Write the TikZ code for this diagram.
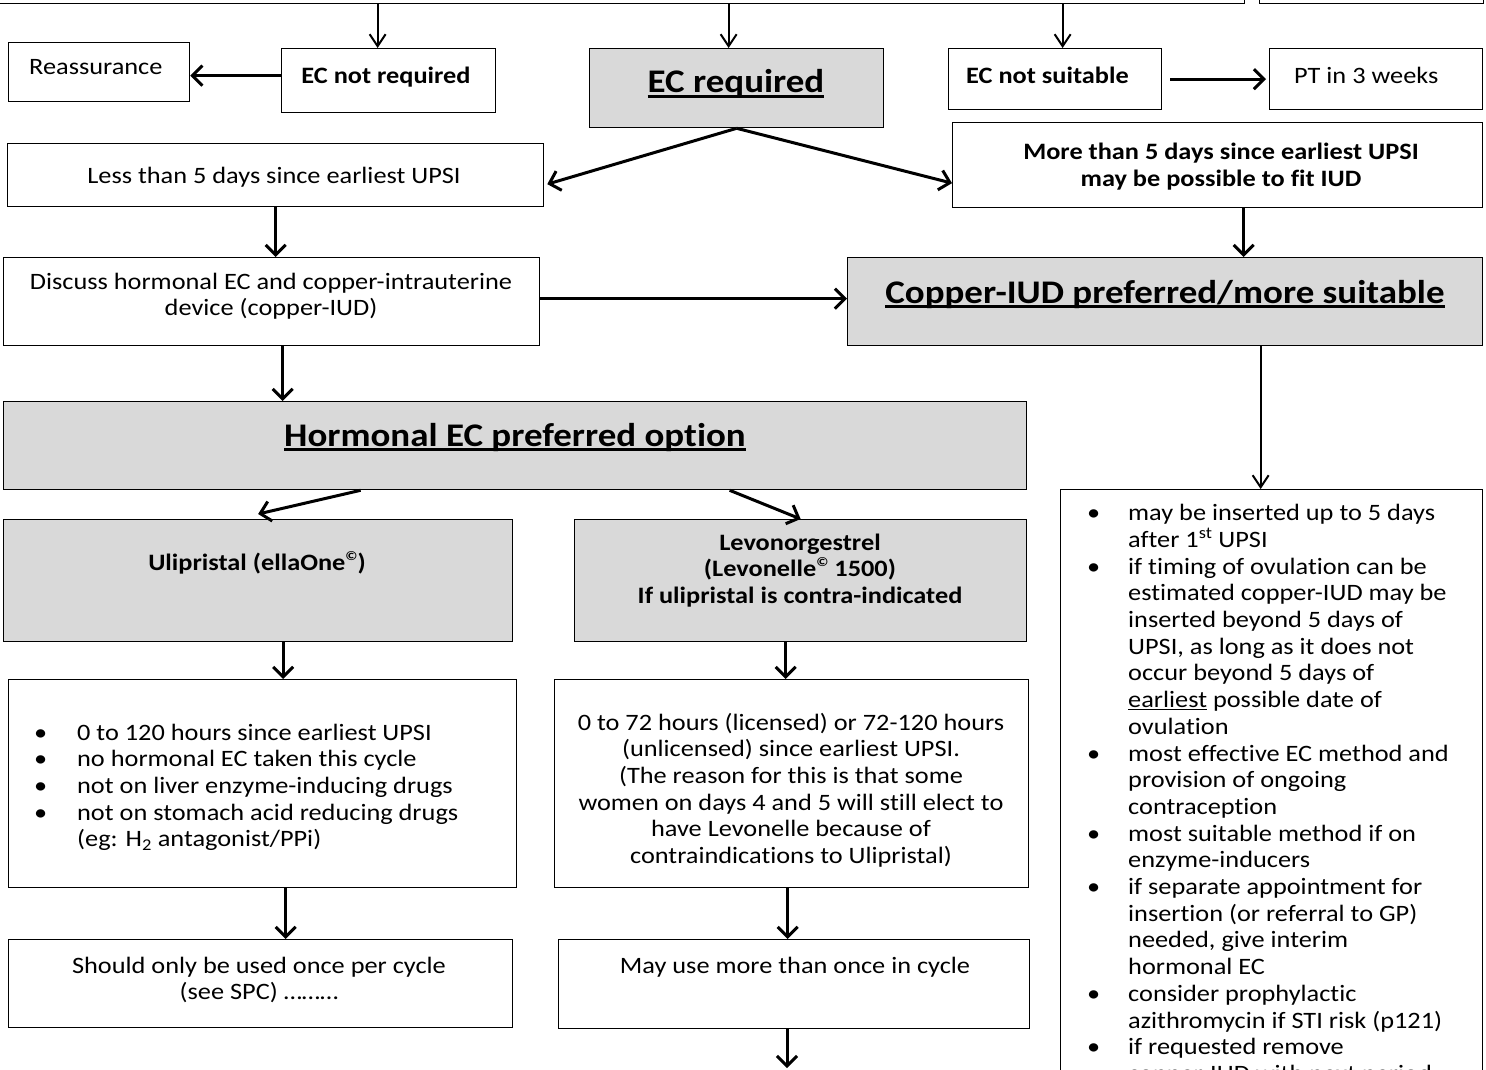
\documentclass[tikz,border=0pt]{standalone}
\usepackage{fontspec}
\setmainfont{Carlito}[FakeStretch=1.12,Ligatures={NoCommon}]
\usetikzlibrary{arrows.meta,calc}
\definecolor{boxgray}{HTML}{D9D9D9}
\newcommand\myul[1]{\setbox0\hbox{#1}\rlap{\rule[-5pt]{\wd0}{2.6pt}}\box0}
\newcommand\cpy{\raisebox{10pt}{\fontsize{13}{13}\selectfont\bfseries ©}}
\begin{document}
\begin{tikzpicture}[x=1pt,y=-1pt,
  box/.style={draw=black, line width=1.3pt, fill=white, inner sep=0pt, anchor=north west},
  gbox/.style={box, fill=boxgray},
  txt/.style={inner sep=0pt, font=\fontsize{23.5}{26.7}\selectfont},
  btxt/.style={inner sep=0pt, font=\fontsize{23.5}{26.7}\selectfont\bfseries},
  htxt/.style={inner sep=0pt, font=\fontsize{33}{38}\selectfont\bfseries},
  arr/.style={line width=3pt, -{Straight Barb[length=10pt,width=20pt]}},
  tarr/.style={line width=2pt, -{Straight Barb[length=12pt,width=16pt]}},
]
\useasboundingbox (0,0) rectangle (1486,1070);
\fill[white] (0,0) rectangle (1486,1070);

% boxes
\node[box, minimum width=1264pt, minimum height=103pt] (top1) at (-20,-100) {};
\node[box, minimum width=224pt, minimum height=103pt] (top2) at (1259,-100) {};
\node[box, minimum width=181pt, minimum height=59pt] (reass) at (8,42) {};
\node[box, minimum width=214pt, minimum height=64pt] (ecnr) at (281,48) {};
\node[gbox, minimum width=294pt, minimum height=79pt] (ecr) at (589,48) {};
\node[box, minimum width=213pt, minimum height=61pt] (ecns) at (948,48) {};
\node[box, minimum width=213pt, minimum height=61pt] (pt) at (1269,48) {};
\node[box, minimum width=536pt, minimum height=63pt] (less) at (7,143) {};
\node[box, minimum width=530pt, minimum height=85pt] (more) at (952,122) {};
\node[box, minimum width=536pt, minimum height=88pt] (discuss) at (3,257) {};
\node[gbox, minimum width=635pt, minimum height=88pt] (copper) at (847,257) {};
\node[gbox, minimum width=1023pt, minimum height=88pt] (horm) at (3,401) {};
\node[gbox, minimum width=509pt, minimum height=122pt] (uli) at (3,519) {};
\node[gbox, minimum width=452pt, minimum height=122pt] (levo) at (574,519) {};
\node[box, minimum width=508pt, minimum height=208pt] (ulist) at (8,679) {};
\node[box, minimum width=474pt, minimum height=208pt] (levot) at (554,679) {};
\node[box, minimum width=504pt, minimum height=88pt] (should) at (8,939) {};
\node[box, minimum width=471pt, minimum height=89pt] (may) at (558,939) {};
\node[box, minimum width=422pt, minimum height=611pt] (rlist) at (1060,489) {};

% texts
\node[txt, anchor=base west] (reass-t) at (29,75) {Reassurance};
\node[btxt, anchor=base] (ecnr-t) at (386,84) {EC not required};
\node[htxt, anchor=base] (ecr-t) at (736,93) {\myul{EC required}};
\node[btxt, anchor=base west] (ecns-t) at (966,84) {EC not suitable};
\node[txt, anchor=base west] (pt-t) at (1294,84) {PT in 3 weeks};
\node[txt, anchor=base] (less-t) at (274,183) {Less than 5 days since earliest UPSI};
\node[btxt, anchor=base] (more-t) at (1221,160) {\begin{tabular}[t]{@{}c@{}}More than 5 days since earliest UPSI\\ may be possible to fit IUD\end{tabular}};
\node[txt, anchor=base] (discuss-t) at (271,289) {\begin{tabular}[t]{@{}c@{}}Discuss hormonal EC and copper-intrauterine\\ device (copper-IUD)\end{tabular}};
\node[htxt, anchor=base] (copper-t) at (1165,303) {\myul{Copper-IUD preferred/more suitable}};
\node[htxt, anchor=base] (horm-t) at (515,446) {\myul{Hormonal EC preferred option}};
\node[btxt, anchor=base] (uli-t) at (257,570) {Ulipristal (ellaOne\cpy)};
\node[btxt, anchor=base] (levo-t) at (800,550) {\begin{tabular}[t]{@{}c@{}}Levonorgestrel\\ (Levonelle\cpy\ 1500)\\ If ulipristal is contra-indicated\end{tabular}};
\node[txt, anchor=base west] (ulist-t) at (34,740) {\begin{tabular}[t]{@{}p{43pt}@{}l@{}}
\textbullet & 0 to 120 hours since earliest UPSI\\
\textbullet & no hormonal EC taken this cycle\\
\textbullet & not on liver enzyme-inducing drugs\\
\textbullet & not on stomach acid reducing drugs\\
 & (eg: H\textsubscript{2} antagonist/PPi)
\end{tabular}};
\node[txt, anchor=base] (levot-t) at (791,730) {\begin{tabular}[t]{@{}c@{}}0 to 72 hours (licensed) or 72-120 hours\\
(unlicensed) since earliest UPSI.\\
(The reason for this is that some\\
women on days 4 and 5 will still elect to\\
have Levonelle because of\\
contraindications to Ulipristal)\end{tabular}};
\node[txt, anchor=base] (should-t) at (259,973) {\begin{tabular}[t]{@{}c@{}}Should only be used once per cycle\\ (see SPC) ………\end{tabular}};
\node[txt, anchor=base] (may-t) at (795,973) {May use more than once in cycle};
\node[txt, anchor=base west] (rlist-t) at (1087,520) {\begin{tabular}[t]{@{}p{41pt}@{}l@{}}
\textbullet & may be inserted up to 5 days\\
 & after 1\textsuperscript{st} UPSI\\
\textbullet & if timing of ovulation can be\\
 & estimated copper-IUD may be\\
 & inserted beyond 5 days of\\
 & UPSI, as long as it does not\\
 & occur beyond 5 days of\\
 & \underline{earliest} possible date of\\
 & ovulation\\
\textbullet & most effective EC method and\\
 & provision of ongoing\\
 & contraception\\
\textbullet & most suitable method if on\\
 & enzyme-inducers\\
\textbullet & if separate appointment for\\
 & insertion (or referral to GP)\\
 & needed, give interim\\
 & hormonal EC\\
\textbullet & consider prophylactic\\
 & azithromycin if STI risk (p121)\\
\textbullet & if requested remove\\
 & copper-IUD with next period
\end{tabular}};

% connectors
\draw[tarr] ([xshift=-11pt]ecnr.north |- top1.south) -- ([xshift=-11pt]ecnr.north);
\draw[tarr] ([xshift=-8pt]ecr.north |- top1.south) -- ([xshift=-8pt]ecr.north);
\draw[tarr] ([xshift=7.5pt]ecns.north |- top1.south) -- ([xshift=7.5pt]ecns.north);
\draw[arr] ([yshift=5pt]ecnr.west) -- ([yshift=5pt]ecnr.west -| reass.east);
\draw[arr, shorten <=8pt] (ecns.east) -- ([xshift=-3pt]ecns.east -| pt.west);
\draw[arr] (ecr.south) -- ([xshift=3pt,yshift=-9pt]less.east);
\draw[arr] (ecr.south) -- ([yshift=-18pt]more.west);
\draw[arr] (less.south) -- (less.south |- discuss.north);
\draw[arr] ([xshift=26pt]more.south) -- ([xshift=26pt]more.south |- copper.north);
\draw[arr] ([yshift=3pt]discuss.east) -- ([yshift=3pt]discuss.east -| copper.west);
\draw[arr] ([xshift=11pt]discuss.south) -- ([xshift=11pt]discuss.south |- horm.north);
\draw[arr] ([xshift=-154.5pt]horm.south) -- ([yshift=5pt]uli.north);
\draw[arr] ([xshift=214.5pt]horm.south) -- (levo.north);
\draw[tarr] ([xshift=-11pt]rlist.north |- copper.south) -- ([xshift=-11pt]rlist.north);
\draw[arr] ([xshift=25pt]uli.south) -- ([xshift=25pt]uli.south |- ulist.north);
\draw[arr] ([xshift=-15pt]levo.south) -- ([xshift=-15pt]levo.south |- levot.north);
\draw[arr] ([xshift=23pt]ulist.south) -- ([xshift=23pt]ulist.south |- should.north);
\draw[arr] ([xshift=-4pt]levot.south) -- ([xshift=-4pt]levot.south |- may.north);
\coordinate (mayout) at (787,1068);
\draw[arr] (may.south -| mayout) -- (mayout);
\end{tikzpicture}
\end{document}
